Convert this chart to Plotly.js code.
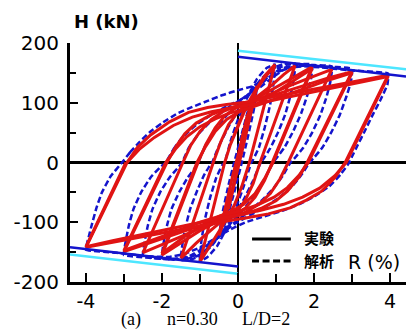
<!DOCTYPE html>
<html>
<head>
<meta charset="utf-8">
<script src="https://cdn.plot.ly/plotly-3.0.1.min.js"></script>
<style>
html,body{margin:0;padding:0;background:#fff;}
#chart{width:406px;height:329px;}
</style>
</head>
<body>
<div id="chart"></div>
<script>
// ---- Experimental (実験) hysteresis cycles: drift R (%) and load H (kN) ----
var expR_025 = [0, 0.1, 0.25, 0.15, 0.03, -0.1, -0.25, -0.15, -0.03, 0.1, 0.25];
var expH_025 = [0, 40, 80, 50, 10, -35, -78, -48, -8, 38, 78];

var expR_05 = [0.25, 0.4, 0.5, 0.35, 0.15, 0, -0.2, -0.35, -0.5, -0.35, -0.15, 0, 0.2, 0.35, 0.5];
var expH_05 = [78, 110, 128, 85, 30, -10, -60, -95, -122, -80, -25, 12, 62, 98, 125];

var expR_1 = [-0.35, -0.2, 0, 0.2, 0.45, 0.7, 0.97, 0.3, 0.1, -0.1, -0.35, -0.6, -0.8, -1.0, -0.35, -0.2, 0, 0.2, 0.45, 0.7, 0.97];
var expH_1 = [0, 30, 62, 92, 120, 145, 164, 0, -40, -72, -100, -125, -145, -166, 0, 30, 60, 90, 118, 142, 162];

var expR_15 = [-0.65, -0.45, -0.25, 0, 0.3, 0.6, 0.9, 1.2, 1.5, 0.58, 0.4, 0.2, 0, -0.25, -0.5, -0.8, -1.1, -1.5, -0.65];
var expH_15 = [0, 35, 63, 85, 100, 115, 130, 147, 162, 0, -35, -62, -80, -92, -102, -118, -135, -160, 0];

var expR_2a = [-1.05, -0.85, -0.6, -0.35, -0.1, 0.2, 0.5, 1.0, 1.5, 1.95, 0.9, 0.7, 0.45, 0.2, -0.1, -0.4, -0.7, -1.0, -1.5, -2.0, -1.05];
var expH_2a = [0, 30, 58, 78, 90, 97, 108, 126, 143, 160, 0, -30, -58, -76, -88, -96, -104, -114, -134, -155, 0];

var expR_2b = [-1.08, -0.85, -0.6, -0.3, 0, 0.35, 0.8, 1.3, 1.95, 0.92, 0.7, 0.45, 0.15, -0.15, -0.5, -0.9, -1.4, -2.0, -1.08];
var expH_2b = [0, 27, 52, 72, 84, 92, 110, 130, 157, 0, -27, -52, -70, -81, -90, -104, -124, -152, 0];

var expR_25 = [-1.45, -1.25, -1.0, -0.7, -0.4, -0.1, 0.3, 0.8, 1.3, 1.9, 2.47, 1.32, 1.1, 0.85, 0.55, 0.2, -0.2, -0.6, -1.0, -1.5, -2.0, -2.5, -1.45];
var expH_25 = [0, 28, 52, 72, 85, 93, 99, 113, 127, 142, 156, 0, -28, -52, -70, -83, -92, -100, -110, -124, -138, -151, 0];

var expR_3a = [-1.87, -1.65, -1.4, -1.1, -0.7, -0.3, 0.1, 0.6, 1.2, 1.8, 2.4, 3.0, 1.82, 1.6, 1.3, 1.0, 0.6, 0.2, -0.2, -0.6, -1.2, -1.8, -2.4, -3.0, -1.87];
var expH_3a = [0, 25, 48, 66, 80, 90, 96, 106, 118, 131, 142, 152, 0, -25, -48, -64, -77, -86, -92, -98, -110, -123, -136, -149, 0];

var expR_3b = [-1.9, -1.65, -1.35, -1.0, -0.6, -0.2, 0.3, 0.9, 1.5, 2.2, 3.0, 1.85, 1.6, 1.3, 0.95, 0.55, 0.1, -0.4, -1.0, -1.7, -2.4, -3.0, -1.9];
var expH_3b = [0, 22, 43, 60, 73, 83, 91, 104, 118, 134, 150, 0, -22, -42, -58, -70, -80, -88, -100, -117, -133, -147, 0];

var expR_4a = [-2.92, -2.65, -2.3, -1.8, -1.3, -0.8, -0.3, 0.2, 1.0, 2.0, 3.0, 3.95, 2.82, 2.55, 2.2, 1.8, 1.37, 0.8, 0.2, -0.5, -1.5, -2.5, -3.3, -4.0, -2.92];
var expH_4a = [0, 25, 46, 68, 84, 92, 97, 101, 111, 123, 134, 146, 0, -25, -48, -63, -76, -86, -93, -100, -112, -124, -134, -142, 0];

var expR_4b = [-2.92, -2.6, -2.2, -1.7, -1.2, -0.7, -0.2, 0.4, 1.2, 2.2, 3.1, 3.95, 2.85, 2.55, 2.15, 1.7, 1.2, 0.6, 0, -0.6, -1.5, -2.5, -3.3, -4.0, -2.95];
var expH_4b = [0, 22, 42, 62, 76, 85, 91, 97, 108, 121, 133, 144, 0, -22, -43, -58, -70, -80, -88, -95, -107, -120, -131, -141, 0];

// ---- Analytical (解析) hysteresis cycles ----
var anaR_025 = [0, 0.12, 0.25, 0.15, 0.03, -0.12, -0.25, -0.15, -0.03, 0];
var anaH_025 = [0, 42, 80, 48, 8, -42, -80, -48, -8, 0];

var anaR_05 = [-0.1, 0.1, 0.3, 0.5, 0.42, 0.25, 0.1, -0.1, -0.3, -0.5, -0.42, -0.25, -0.1];
var anaH_05 = [0, 48, 95, 128, 90, 40, 0, -50, -95, -126, -88, -38, 0];

var anaR_1 = [-0.35, -0.2, 0, 0.25, 0.5, 0.75, 0.97, 0.93, 0.84, 0.7, 0.55, 0.4, 0.35, 0.15, -0.05, -0.3, -0.55, -0.8, -1.0, -0.96, -0.87, -0.73, -0.57, -0.42, -0.35];
var anaH_1 = [0, 35, 72, 110, 140, 158, 164, 130, 95, 58, 25, 5, 0, -40, -75, -110, -140, -158, -165, -130, -95, -58, -25, -5, 0];

var anaR_15 = [-0.68, -0.5, -0.25, 0, 0.3, 0.6, 0.9, 1.2, 1.5, 1.47, 1.38, 1.24, 1.05, 0.85, 0.68, 0.6, 0.4, 0.15, -0.1, -0.4, -0.7, -1.0, -1.25, -1.5, -1.46, -1.38, -1.26, -1.08, -0.9, -0.75, -0.68];
var anaH_15 = [0, 28, 60, 87, 114, 139, 157, 165, 166, 140, 112, 80, 50, 24, 7, 0, -30, -62, -88, -115, -140, -156, -163, -163, -136, -108, -78, -48, -22, -6, 0];

var anaR_2 = [-1.05, -0.88, -0.65, -0.35, -0.05, 0.3, 0.65, 0.95, 1.3, 1.95, 1.92, 1.82, 1.66, 1.45, 1.22, 1.02, 0.92, 0.72, 0.48, 0.18, -0.12, -0.45, -0.75, -1.05, -1.45, -2.0, -1.95, -1.87, -1.75, -1.55, -1.32, -1.12, -1.05];
var anaH_2 = [0, 25, 50, 75, 95, 116, 138, 155, 164, 164, 140, 112, 82, 52, 25, 8, 0, -25, -50, -76, -97, -120, -141, -156, -163, -160, -132, -106, -78, -50, -25, -8, 0];

var anaR_25 = [-1.47, -1.3, -1.05, -0.7, -0.35, 0, 0.4, 0.8, 1.1, 1.5, 2.0, 2.47, 2.44, 2.33, 2.17, 1.95, 1.72, 1.5, 1.38, 1.2, 0.95, 0.6, 0.25, -0.1, -0.45, -0.8, -1.15, -1.6, -2.0, -2.5, -2.45, -2.37, -2.25, -2.05, -1.8, -1.57, -1.47];
var anaH_25 = [0, 24, 47, 70, 88, 102, 120, 142, 156, 163, 163, 161, 138, 110, 80, 50, 25, 8, 0, -20, -42, -65, -84, -101, -121, -142, -156, -162, -161, -157, -130, -105, -78, -50, -25, -8, 0];

var anaR_3 = [-1.9, -1.7, -1.45, -1.1, -0.7, -0.3, 0.1, 0.5, 0.9, 1.2, 1.6, 2.2, 3.0, 2.97, 2.85, 2.68, 2.45, 2.22, 2.0, 1.88, 1.7, 1.45, 1.1, 0.7, 0.3, -0.1, -0.5, -0.9, -1.3, -1.8, -2.4, -3.0, -2.95, -2.87, -2.75, -2.55, -2.3, -2.05, -1.9];
var anaH_3 = [0, 22, 43, 63, 80, 94, 106, 122, 142, 155, 162, 161, 157, 135, 110, 80, 50, 25, 8, 0, -18, -38, -58, -75, -89, -103, -122, -143, -157, -162, -159, -155, -130, -105, -78, -50, -25, -8, 0];

var anaR_4 = [-3.05, -2.84, -2.58, -2.3, -2.0, -1.6, -1.2, -0.8, -0.4, 0, 0.4, 0.7, 1.0, 1.3, 1.7, 2.2, 3.0, 3.95, 3.93, 3.75, 3.53, 3.33, 3.14, 3.0, 2.93, 2.7, 2.4, 2.0, 1.6, 1.2, 0.7, 0.2, -0.2, -0.6, -1.0, -1.4, -1.8, -2.4, -3.2, -4.0, -3.93, -3.85, -3.72, -3.58, -3.35, -3.05];
var anaH_4 = [0, 17, 35, 52, 66, 82, 93, 103, 113, 121, 128, 139, 150, 158, 161, 159, 154, 149, 130, 105, 78, 52, 28, 10, 0, -20, -40, -57, -70, -80, -90, -100, -112, -127, -142, -153, -158, -157, -151, -146, -125, -105, -75, -50, -23, 0];

// ---- Envelope lines ----
var envBlueR_pos = [0, 4.42];
var envBlueH_pos = [177, 144];
var envBlueR_neg = [-4.42, 0];
var envBlueH_neg = [-142, -174];
var envCyanR_pos = [0, 4.42];
var envCyanH_pos = [187, 156];
var envCyanR_neg = [-4.42, 0];
var envCyanH_neg = [-154, -186];

// ---- Tick labels ----
var xTickVals = [-4, -2, 0, 2, 4];
var xTickText = ['-4', '-2', '0', '2', '4'];
var yTickVals = [-200, -100, 0, 100, 200];
var yTickText = ['-200', '-100', '0', '100', '200'];

var expCycles = [[expR_025, expH_025], [expR_05, expH_05], [expR_1, expH_1], [expR_15, expH_15],
                 [expR_2a, expH_2a], [expR_2b, expH_2b], [expR_25, expH_25], [expR_3a, expH_3a],
                 [expR_3b, expH_3b], [expR_4a, expH_4a], [expR_4b, expH_4b]];
var anaCycles = [[anaR_025, anaH_025], [anaR_05, anaH_05], [anaR_1, anaH_1], [anaR_15, anaH_15],
                 [anaR_2, anaH_2], [anaR_25, anaH_25], [anaR_3, anaH_3], [anaR_4, anaH_4]];

var RED = '#E01414';
var BLUE = '#1414CC';
var CYAN = '#4DE6FF';

var traces = [];
anaCycles.forEach(function (c) {
  traces.push({x: c[0], y: c[1], type: 'scatter', mode: 'lines', showlegend: false,
    line: {color: BLUE, width: 2.5, dash: '6px,3px', shape: 'spline', smoothing: 0.3}});
});
expCycles.forEach(function (c) {
  traces.push({x: c[0], y: c[1], type: 'scatter', mode: 'lines', showlegend: false,
    line: {color: RED, width: 3, shape: 'linear'}});
});
[[envCyanR_pos, envCyanH_pos, CYAN], [envCyanR_neg, envCyanH_neg, CYAN],
 [envBlueR_pos, envBlueH_pos, BLUE], [envBlueR_neg, envBlueH_neg, BLUE]].forEach(function (e) {
  traces.push({x: e[0], y: e[1], type: 'scatter', mode: 'lines', showlegend: false,
    line: {color: e[2], width: 2.5}});
});

var xTickFont = {family: 'DejaVu Sans, Arial, sans-serif', size: 19, color: '#000'};
var yTickFont = {family: 'DejaVu Sans, Arial, sans-serif', size: 20, color: '#000'};
var capFont = {family: 'Liberation Serif, Times New Roman, serif', size: 18, color: '#000'};

var layout = {
  width: 406, height: 329,
  margin: {l: 70, r: 0, t: 43, b: 47, pad: 0},
  paper_bgcolor: '#fff', plot_bgcolor: '#fff',
  showlegend: false,
  xaxis: {
    range: [-4.42, 4.42], showgrid: false,
    zeroline: true, zerolinecolor: '#000', zerolinewidth: 2.5,
    showline: true, linecolor: '#000', linewidth: 3,
    ticks: 'inside', ticklen: 9, tickwidth: 2, tickcolor: '#000',
    tickvals: xTickVals, ticktext: xTickText, tickfont: xTickFont, ticklabelstandoff: 0,
    minor: {dtick: 1, tick0: 0, ticks: 'inside', ticklen: 8, tickwidth: 2, tickcolor: '#000', showgrid: false}
  },
  yaxis: {
    range: [-200, 200], showgrid: false,
    zeroline: true, zerolinecolor: '#000', zerolinewidth: 2.5,
    showline: true, linecolor: '#000', linewidth: 3,
    ticks: 'inside', ticklen: 8, tickwidth: 2, tickcolor: '#000',
    tickvals: yTickVals, ticktext: yTickText, tickfont: yTickFont, ticklabelstandoff: 4,
    minor: {dtick: 50, tick0: 0, ticks: 'inside', ticklen: 6, tickwidth: 2, tickcolor: '#000', showgrid: false}
  },
  shapes: [
    {type: 'line', xref: 'x', yref: 'y', x0: 0.37, x1: 1.39, y0: -128, y1: -128, line: {color: '#000', width: 3}},
    {type: 'line', xref: 'x', yref: 'y', x0: 0.37, x1: 1.39, y0: -165, y1: -165, line: {color: '#000', width: 3, dash: '7px,3.5px'}}
  ],
  annotations: [
    {text: '<b>H (kN)</b>', xref: 'paper', yref: 'paper', x: 0.006, y: 1.092, xanchor: 'left', yanchor: 'middle', showarrow: false,
     font: {family: 'DejaVu Sans, Arial, sans-serif', size: 18, color: '#000'}},
    {text: 'R (%)', xref: 'x', yref: 'y', x: 2.85, y: -166, xanchor: 'left', yanchor: 'middle', showarrow: false,
     font: {family: 'DejaVu Sans, Arial, sans-serif', size: 19, color: '#000'}},
    {text: '<b>実験</b>', xref: 'x', yref: 'y', x: 2.14, y: -126, xanchor: 'center', yanchor: 'middle', showarrow: false,
     font: {family: 'Noto Sans CJK JP, sans-serif', size: 15, color: '#000'}},
    {text: '<b>解析</b>', xref: 'x', yref: 'y', x: 2.14, y: -164, xanchor: 'center', yanchor: 'middle', showarrow: false,
     font: {family: 'Noto Sans CJK JP, sans-serif', size: 15, color: '#000'}},
    {text: '(a)', xref: 'paper', yref: 'paper', x: 0.146, y: -0.155, xanchor: 'left', yanchor: 'middle', showarrow: false, font: capFont},
    {text: 'n=0.30', xref: 'paper', yref: 'paper', x: 0.283, y: -0.155, xanchor: 'left', yanchor: 'middle', showarrow: false, font: capFont},
    {text: 'L/D=2', xref: 'paper', yref: 'paper', x: 0.506, y: -0.155, xanchor: 'left', yanchor: 'middle', showarrow: false, font: capFont}
  ]
};

Plotly.newPlot('chart', traces, layout, {staticPlot: true, displayModeBar: false});
</script>
</body>
</html>
